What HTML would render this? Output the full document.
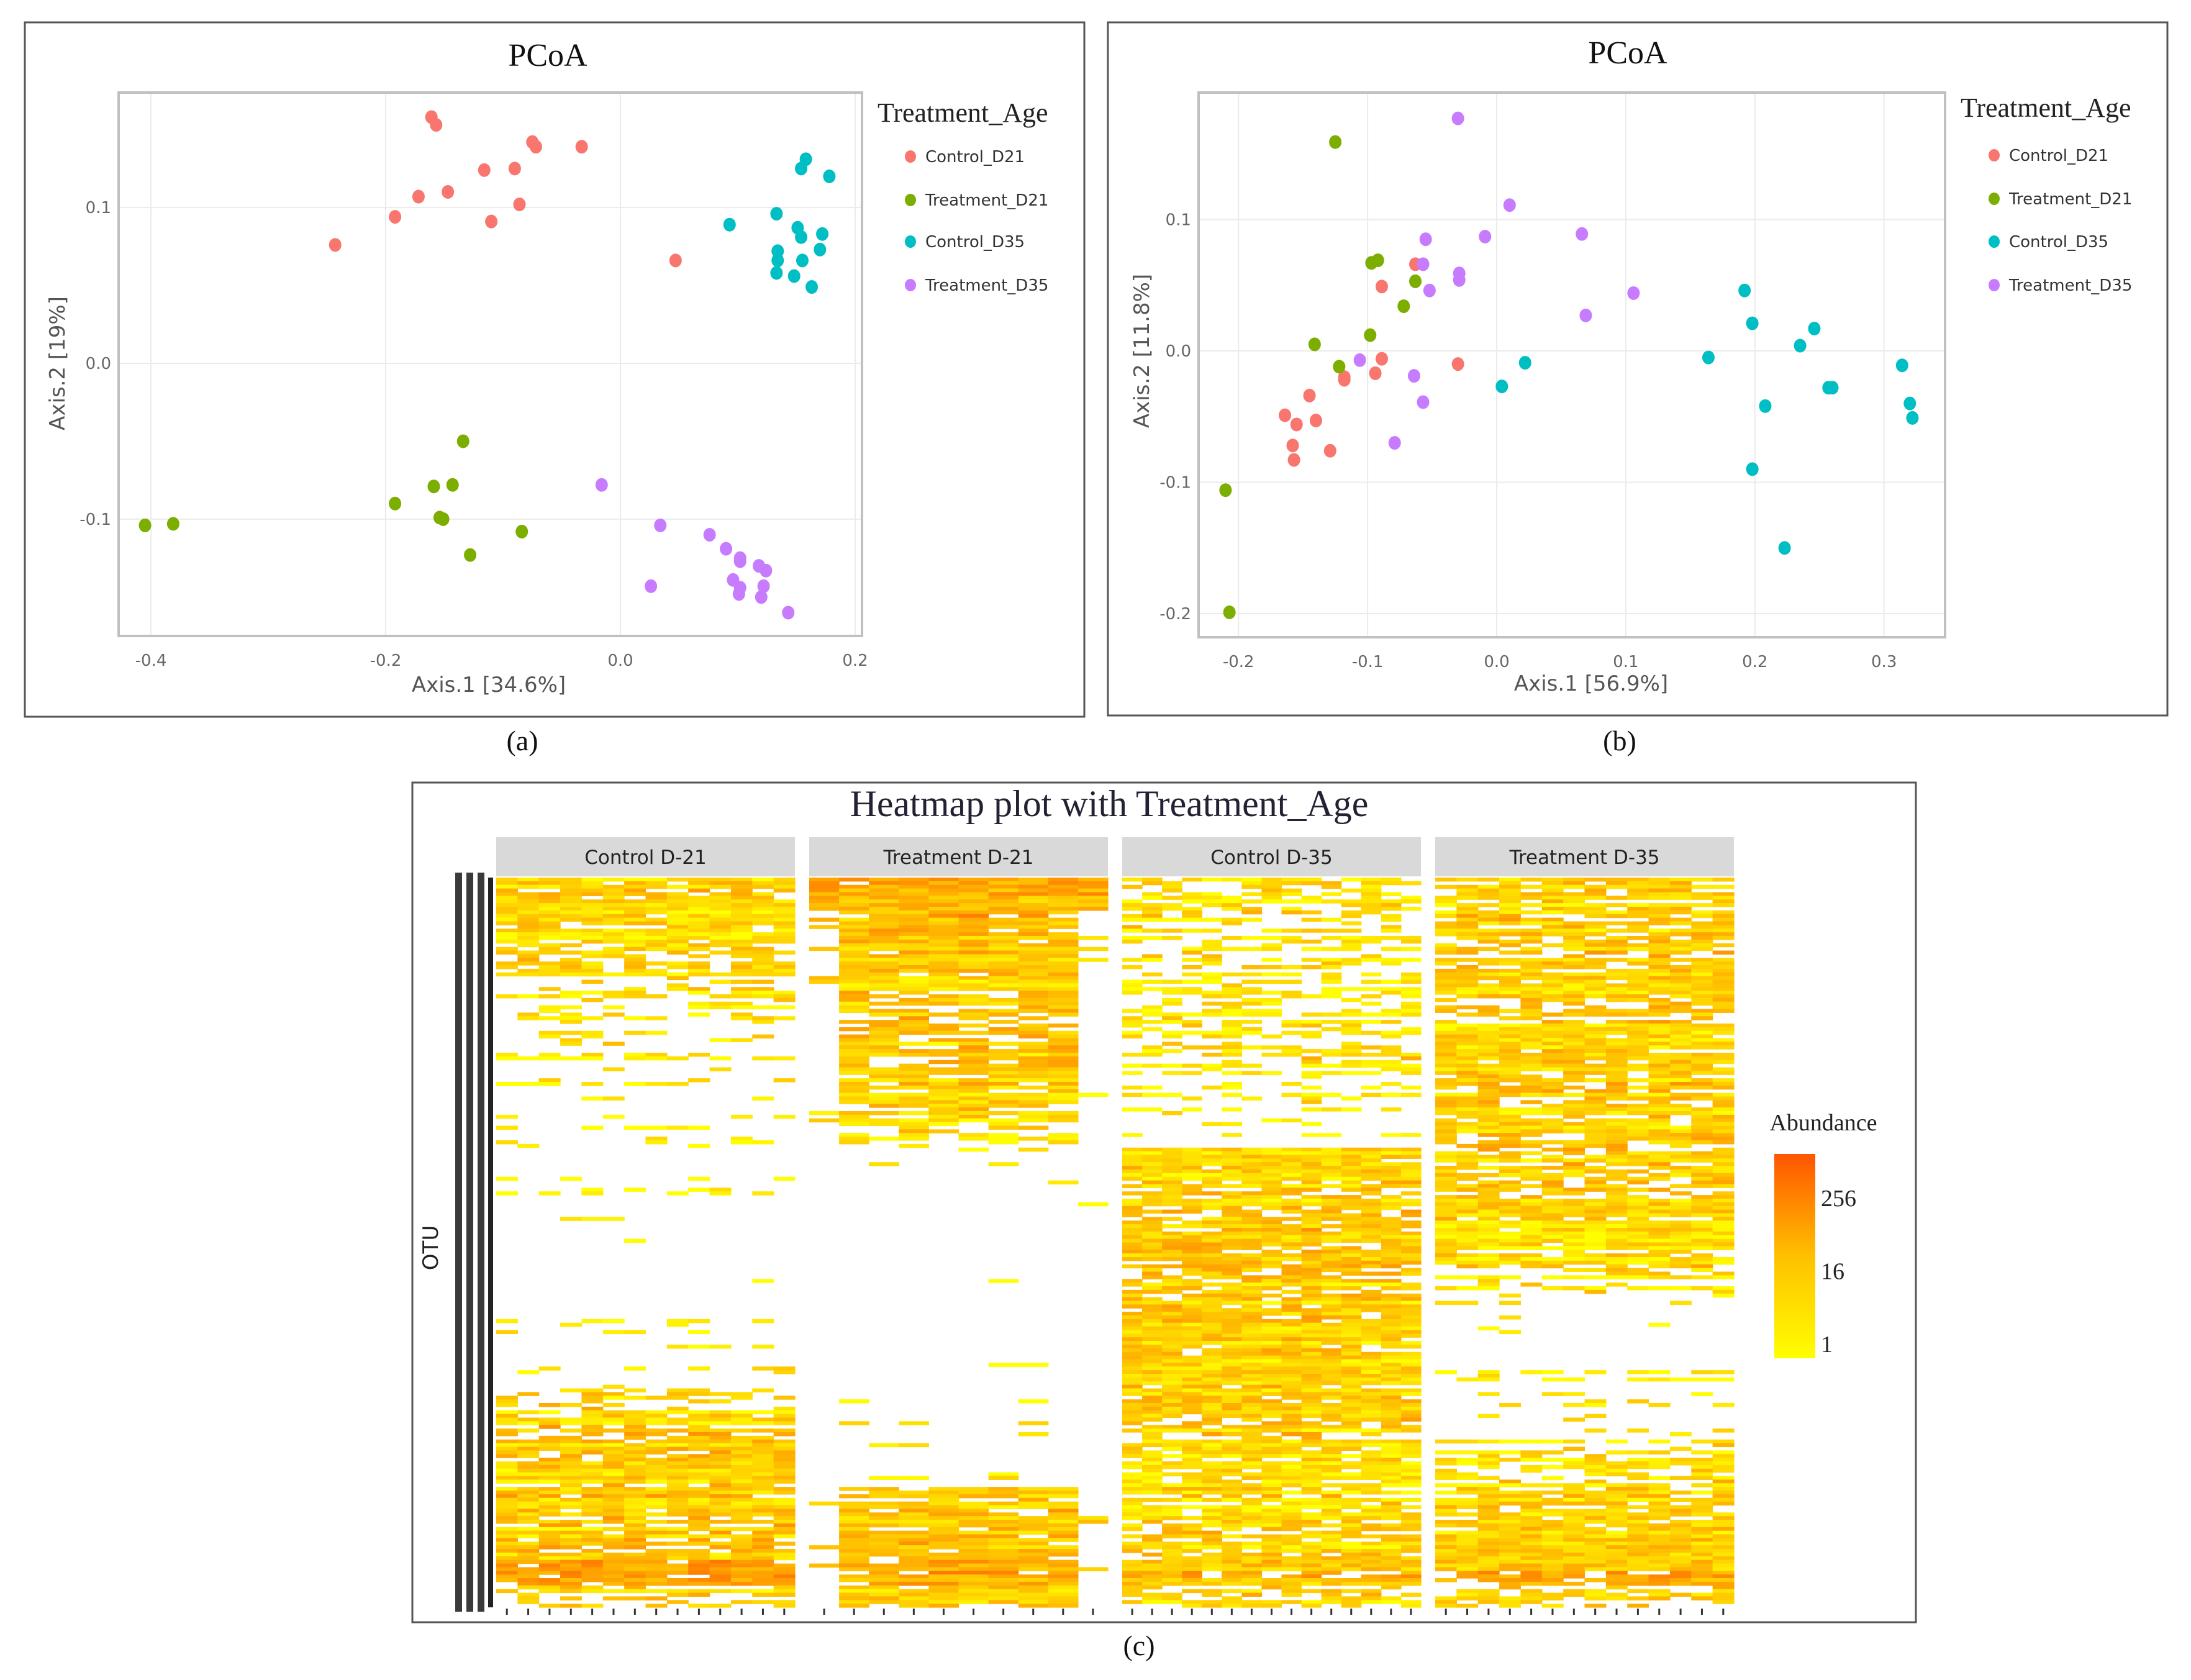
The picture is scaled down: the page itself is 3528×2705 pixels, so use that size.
<!DOCTYPE html>
<html><head><meta charset="utf-8"><style>
html,body{margin:0;padding:0;background:#fff;}
svg{display:block;}
.sans{font-family:"DejaVu Sans","Liberation Sans",sans-serif;}
.serif{font-family:"Liberation Serif",serif;}
</style></head><body>
<svg id="fig" width="3528" height="2705" viewBox="0 0 3528 2705" xmlns="http://www.w3.org/2000/svg"></svg>
<script>
// ---------- Panel (a) data ----------
const aCtrlD21X=[-0.161,-0.157,-0.075,-0.072,-0.033,-0.116,-0.090,-0.147,-0.172,-0.192,-0.086,-0.110,-0.243,0.047];
const aCtrlD21Y=[0.158,0.153,0.142,0.139,0.139,0.124,0.125,0.110,0.107,0.094,0.102,0.091,0.076,0.066];
const aTrtD21X=[-0.134,-0.159,-0.143,-0.192,-0.154,-0.151,-0.405,-0.381,-0.084,-0.128];
const aTrtD21Y=[-0.050,-0.079,-0.078,-0.090,-0.099,-0.100,-0.104,-0.103,-0.108,-0.123];
const aCtrlD35X=[0.158,0.154,0.178,0.133,0.093,0.151,0.154,0.172,0.134,0.134,0.155,0.170,0.133,0.148,0.163];
const aCtrlD35Y=[0.131,0.125,0.120,0.096,0.089,0.087,0.081,0.083,0.072,0.066,0.066,0.073,0.058,0.056,0.049];
const aTrtD35X=[-0.016,0.034,0.076,0.090,0.102,0.102,0.118,0.124,0.026,0.096,0.102,0.101,0.122,0.120,0.143];
const aTrtD35Y=[-0.078,-0.104,-0.110,-0.119,-0.125,-0.127,-0.130,-0.133,-0.143,-0.139,-0.144,-0.148,-0.143,-0.150,-0.160];
const aXTicks=[-0.4,-0.2,0.0,0.2];
const aXTickLabels=["-0.4","-0.2","0.0","0.2"];
const aYTicks=[-0.1,0.0,0.1];
const aYTickLabels=["-0.1","0.0","0.1"];
// ---------- Panel (b) data ----------
const bCtrlD21X=[-0.063,-0.089,-0.089,-0.094,-0.118,-0.118,-0.145,-0.164,-0.155,-0.140,-0.158,-0.157,-0.129,-0.030];
const bCtrlD21Y=[0.066,0.049,-0.006,-0.017,-0.020,-0.022,-0.034,-0.049,-0.056,-0.053,-0.072,-0.083,-0.076,-0.010];
const bTrtD21X=[-0.125,-0.097,-0.092,-0.063,-0.072,-0.098,-0.141,-0.122,-0.210,-0.207];
const bTrtD21Y=[0.159,0.067,0.069,0.053,0.034,0.012,0.005,-0.012,-0.106,-0.199];
const bCtrlD35X=[0.192,0.198,0.246,0.235,0.164,0.022,0.004,0.257,0.260,0.208,0.314,0.320,0.322,0.198,0.223];
const bCtrlD35Y=[0.046,0.021,0.017,0.004,-0.005,-0.009,-0.027,-0.028,-0.028,-0.042,-0.011,-0.040,-0.051,-0.090,-0.150];
const bTrtD35X=[-0.030,0.010,-0.009,-0.055,0.066,-0.057,-0.029,-0.029,-0.052,0.106,0.069,-0.106,-0.064,-0.057,-0.079];
const bTrtD35Y=[0.177,0.111,0.087,0.085,0.089,0.066,0.059,0.054,0.046,0.044,0.027,-0.007,-0.019,-0.039,-0.070];
const bXTicks=[-0.2,-0.1,0.0,0.1,0.2,0.3];
const bXTickLabels=["-0.2","-0.1","0.0","0.1","0.2","0.3"];
const bYTicks=[-0.2,-0.1,0.0,0.1];
const bYTickLabels=["-0.2","-0.1","0.0","0.1"];
const groupNames=["Control_D21","Treatment_D21","Control_D35","Treatment_D35"];
// ---------- Heatmap data (per-band fill density & intensity, 30 bands top->bottom) ----------
const hmPanels=["Control D-21","Treatment D-21","Control D-35","Treatment D-35"];
const hmSamples=[14,10,15,14];
const hmDensCtrlD21=[0.7,0.75,0.6,0.65,0.45,0.35,0.3,0.25,0.25,0.18,0.25,0.12,0.18,0.12,0.15,0.12,0.08,0.04,0.25,0.2,0.25,0.5,0.7,0.8,0.75,0.8,0.75,0.8,0.85,0.6];
const hmDensTrtD21=[0.8,0.8,0.8,0.75,0.75,0.75,0.7,0.75,0.75,0.7,0.45,0.18,0.2,0.15,0.04,0.04,0.02,0.02,0.12,0.12,0.08,0.25,0.25,0.25,0.3,0.7,0.75,0.8,0.8,0.7];
const hmDensCtrlD35=[0.5,0.55,0.45,0.45,0.4,0.45,0.45,0.5,0.35,0.3,0.28,0.75,0.75,0.7,0.75,0.8,0.75,0.75,0.8,0.75,0.75,0.75,0.7,0.65,0.6,0.6,0.65,0.7,0.75,0.6];
const hmDensTrtD35=[0.7,0.75,0.7,0.7,0.75,0.7,0.75,0.75,0.7,0.75,0.75,0.7,0.7,0.75,0.7,0.65,0.5,0.15,0.12,0.15,0.3,0.3,0.25,0.5,0.5,0.65,0.7,0.75,0.75,0.6];
const hmIntCtrlD21=[0.3,0.28,0.24,0.24,0.2,0.2,0.2,0.16,0.16,0.16,0.16,0.12,0.12,0.12,0.12,0.12,0.12,0.12,0.16,0.16,0.2,0.24,0.32,0.32,0.3,0.32,0.32,0.36,0.48,0.28];
const hmIntTrtD21=[0.45,0.42,0.38,0.36,0.32,0.32,0.32,0.32,0.28,0.28,0.2,0.16,0.2,0.16,0.12,0.12,0.12,0.12,0.12,0.12,0.12,0.16,0.2,0.2,0.2,0.32,0.32,0.36,0.48,0.32];
const hmIntCtrlD35=[0.2,0.24,0.2,0.2,0.2,0.2,0.2,0.2,0.16,0.16,0.16,0.28,0.28,0.28,0.32,0.32,0.28,0.28,0.34,0.32,0.32,0.32,0.28,0.24,0.24,0.24,0.28,0.28,0.38,0.24];
const hmIntTrtD35=[0.28,0.28,0.28,0.32,0.28,0.32,0.28,0.28,0.32,0.28,0.28,0.28,0.28,0.28,0.24,0.24,0.2,0.16,0.16,0.16,0.2,0.2,0.2,0.24,0.24,0.28,0.28,0.32,0.42,0.28];
const hmLegendTicks=[1,16,256];

const NS="http://www.w3.org/2000/svg";
const svg=document.getElementById('fig');
function el(tag,attrs,parent,text){const e=document.createElementNS(NS,tag);for(const k in attrs)e.setAttribute(k,attrs[k]);if(text!==undefined)e.textContent=text;(parent||svg).appendChild(e);return e;}
const colors=["#f8766d","#7cae00","#00bfc4","#c77cff"];

function pcoa(cfg){
  const g=el('g',{});
  
  
  const fr=el('rect',{x:cfg.fx,y:cfg.fy,width:cfg.fw,height:cfg.fh,fill:'#fff',stroke:'#555','stroke-width':3},g);
  
  const sx=v=>cfg.x0+v*cfg.xs, sy=v=>cfg.y0-v*cfg.ys;
  const P=cfg.plot;
  cfg.xTicks.forEach((t,i)=>{
    const l=el('line',{x1:sx(t),x2:sx(t),y1:P.y,y2:P.y+P.h,stroke:'#ebebeb','stroke-width':2},g);
    
    const tx=el('text',{x:sx(t),y:P.y+P.h+48,'text-anchor':'middle','font-size':26,fill:'#666',class:'sans'},g,cfg.xLabels[i]);
    
  });
  cfg.yTicks.forEach((t,i)=>{
    const l=el('line',{x1:P.x,x2:P.x+P.w,y1:sy(t),y2:sy(t),stroke:'#ebebeb','stroke-width':2},g);
    
    const tx=el('text',{x:P.x-12,y:sy(t)+9,'text-anchor':'end','font-size':26,fill:'#666',class:'sans'},g,cfg.yLabels[i]);
    
  });
  const br=el('rect',{x:P.x,y:P.y,width:P.w,height:P.h,fill:'none',stroke:'#c0c0c0','stroke-width':4},g);
  
  cfg.series.forEach((s,k)=>{
    s[0].forEach((xv,i)=>{
      const c=el('ellipse',{cx:sx(xv),cy:sy(s[1][i]),rx:10,ry:11,fill:colors[k]},g);
      
      
    });
  });
  const t=el('text',{x:cfg.titleX,y:cfg.titleY,'text-anchor':'middle','font-size':52,fill:'#111',class:'serif'},g,'PCoA');
  
  const xl=el('text',{x:cfg.xlX,y:cfg.xlY,'text-anchor':'middle','font-size':34,fill:'#555',class:'sans','xml:space':'preserve'},g,cfg.xTitle);
  
  const yl=el('text',{x:0,y:0,'text-anchor':'middle','font-size':34,fill:'#555',class:'sans','xml:space':'preserve',transform:`translate(${cfg.ylX},${cfg.ylY}) rotate(-90)`},g,cfg.yTitle);
  
  const lt=el('text',{x:cfg.legX,y:cfg.legY,'font-size':44,fill:'#222',class:'serif'},g,'Treatment_Age');
  
  groupNames.forEach((n,k)=>{
    const yy=cfg.legEntryY[k];
    const d=el('ellipse',{cx:cfg.legDotX,cy:yy,rx:9,ry:10,fill:colors[k]},g);
    
    const tt=el('text',{x:cfg.legDotX+24,y:yy+9,'font-size':26,fill:'#333',class:'sans'},g,n);
    
  });
  const cap=el('text',{x:cfg.capX,y:cfg.capY,'text-anchor':'middle','font-size':46,fill:'#111',class:'serif'},svg,cfg.cap);
  
}

pcoa({name:'pcoa-panel-a',fx:40,fy:36,fw:1706,fh:1118,x0:999,xs:1890,y0:585,ys:2509,
  plot:{x:191,y:149,w:1197,h:875},xTicks:aXTicks,xLabels:aXTickLabels,yTicks:aYTicks,yLabels:aYTickLabels,
  series:[[aCtrlD21X,aCtrlD21Y],[aTrtD21X,aTrtD21Y],[aCtrlD35X,aCtrlD35Y],[aTrtD35X,aTrtD35Y]],
  titleX:882,titleY:106,xlX:787,xlY:1114,xTitle:'Axis.1   [34.6%]',ylX:104,ylY:585,yTitle:'Axis.2   [19%]',
  legX:1413,legY:196,legDotX:1466,legEntryY:[252,322,389,459],capX:841,capY:1208,cap:'(a)'});
pcoa({name:'pcoa-panel-b',fx:1784,fy:36,fw:1706,fh:1116,x0:2410,xs:2079,y0:565,ys:2115,
  plot:{x:1930,y:149,w:1202,h:877},xTicks:bXTicks,xLabels:bXTickLabels,yTicks:bYTicks,yLabels:bYTickLabels,
  series:[[bCtrlD21X,bCtrlD21Y],[bTrtD21X,bTrtD21Y],[bCtrlD35X,bCtrlD35Y],[bTrtD35X,bTrtD35Y]],
  titleX:2621,titleY:102,xlX:2562,xlY:1112,xTitle:'Axis.1   [56.9%]',ylX:1850,ylY:565,yTitle:'Axis.2   [11.8%]',
  legX:3157,legY:188,legDotX:3211,legEntryY:[250,320,389,459],capX:2608,capY:1208,cap:'(b)'});

// ---------- Heatmap ----------
const hg=el('g',{});


const hf=el('rect',{x:664,y:1260,width:2421,height:1352,fill:'#fff',stroke:'#555','stroke-width':3},hg);

const ht=el('text',{x:1786,y:1314,'text-anchor':'middle','font-size':60,fill:'#223',class:'serif'},hg,'Heatmap plot with Treatment_Age');

const panelX=[799,1303,1807,2311], panelW=481, topY=1413, botY=2588, NROWS=200;
const dens=[hmDensCtrlD21,hmDensTrtD21,hmDensCtrlD35,hmDensTrtD35];
const ints=[hmIntCtrlD21,hmIntTrtD21,hmIntCtrlD35,hmIntTrtD35];
function hash(a,b,c){let h=(a*374761393+b*668265263+c*2147483647)|0;h=(h^(h>>>13))*1274126177|0;h=h^(h>>>16);return ((h>>>0)%10007)/10007;}
function cmap(t){t=Math.max(0,Math.min(1,t));const g=Math.round(255-170*t);return `rgb(255,${g},0)`;}
const rowH=(botY-topY)/NROWS;
hmPanels.forEach((name,p)=>{
  const s=el('rect',{x:panelX[p],y:1348,width:panelW,height:63,fill:'#d9d9d9'},hg);
  
  const st=el('text',{x:panelX[p]+panelW/2,y:1391,'text-anchor':'middle','font-size':31,fill:'#222',class:'sans'},hg,name);
  
  const n=hmSamples[p], cw=panelW/n;
  for(let r=0;r<NROWS;r++){
    const band=Math.min(29,Math.floor(r*30/NROWS));
    const d=dens[p][band], it=ints[p][band];
    const rf=hash(r,p,7);
    for(let c=0;c<n;c++){
      let dd=d;
      if(p===1&&(c===0||c===n-1)&&r>8) dd=d*0.3;
      const q=rf*0.45+hash(r,c,p+11)*0.55;
      if(q<dd){
        const v=it+(hash(c,r,p+3)-0.5)*0.4+(rf-0.5)*0.3;
        const rc=el('rect',{x:panelX[p]+c*cw,y:topY+r*rowH,width:cw+0.6,height:rowH+0.6,fill:cmap(v)},hg);
        
        
      }
    }
  }
  for(let c=0;c<n;c++){
    const tk=el('line',{x1:panelX[p]+(c+0.5)*cw,x2:panelX[p]+(c+0.5)*cw,y1:2590,y2:2600,stroke:'#333','stroke-width':3},hg);
    
  }
});
[733,751,769].forEach(x=>{
  const b=el('rect',{x:x,y:1405,width:11,height:1190,fill:'#3a3a3a'},hg);
  
});
const b4=el('rect',{x:786,y:1413,width:8,height:1175,fill:'#222'},hg);

const otu=el('text',{x:0,y:0,'text-anchor':'middle','font-size':34,fill:'#222',class:'sans',transform:'translate(705,2009) rotate(-90)'},hg,'OTU');

const defs=el('defs',{},hg);
const lg=el('linearGradient',{id:'abund',x1:0,y1:1,x2:0,y2:0},defs);
el('stop',{offset:'0','stop-color':'#ffff00'},lg);
el('stop',{offset:'0.5','stop-color':'#ffc000'},lg);
el('stop',{offset:'1','stop-color':'#ff5500'},lg);
const at=el('text',{x:2936,y:1820,'text-anchor':'middle','font-size':38,fill:'#222',class:'serif'},hg,'Abundance');

const cb=el('rect',{x:2857,y:1858,width:66,height:329,fill:'url(#abund)'},hg);

const cbY=v=>2165-Math.log2(v)/8*235;
hmLegendTicks.forEach(v=>{
  const tl=el('text',{x:2932,y:cbY(v)+12,'font-size':38,fill:'#222',class:'serif'},hg,String(v));
  
});
const capc=el('text',{x:1834,y:2665,'text-anchor':'middle','font-size':46,fill:'#111',class:'serif'},svg,'(c)');

</script>
</body></html>
